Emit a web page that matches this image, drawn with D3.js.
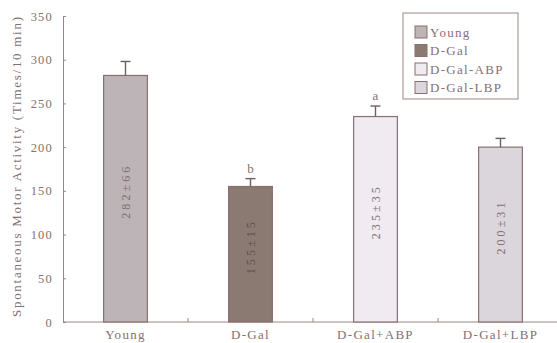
<!DOCTYPE html>
<html>
<head>
<meta charset="utf-8">
<script src="https://cdn.jsdelivr.net/npm/d3@7"></script>
<style>
  body { margin: 0; background: #fff; }
  text { font-family: "Liberation Serif", "Times New Roman", serif; fill: #856f72; }
  .axis path, .axis line { stroke: #9a8686; }
</style>
</head>
<body>
<div id="chart"></div>
<script>
var groups = ["Young", "D-Gal", "D-Gal+ABP", "D-Gal+LBP"];
var legendNames = ["Young", "D-Gal", "D-Gal-ABP", "D-Gal-LBP"];
var means = [282, 155, 235, 200];
var errors = [16, 9, 12, 10];
var barLabels = ["282±66", "155±15", "235±35", "200±31"];
var marks = ["", "b", "a", ""];
var yTicks = [0, 50, 100, 150, 200, 250, 300, 350];
var fills = ["#bcb4b7", "#8b7a72", "#efebf0", "#dbd6db"];

var width = 557, height = 343;
var margin = {top: 16, left: 63, bottom: 21};

var svg = d3.select("#chart").append("svg")
    .attr("width", width)
    .attr("height", height);

var x = d3.scaleBand()
    .domain(groups)
    .range([margin.left, margin.left + 500])
    .paddingInner(0.65)
    .paddingOuter(0.325);
var y = d3.scaleLinear()
    .domain([0, 350])
    .range([height - margin.bottom, margin.top]);

// y axis, ticks pointing inward
svg.append("g")
    .attr("class", "axis")
    .attr("transform", "translate(" + margin.left + ",0)")
    .call(d3.axisLeft(y).tickValues(yTicks).tickSizeInner(-3).tickSizeOuter(0).tickPadding(10))
    .call(function(g) {
        g.selectAll("text")
            .style("font-size", "12.5px")
            .style("letter-spacing", "1.2px")
            .style("font-family", "Liberation Serif");
    });

// x axis line
svg.append("line")
    .attr("x1", margin.left).attr("x2", width)
    .attr("y1", y(0)).attr("y2", y(0))
    .style("stroke", "#9a8686");

// boundary ticks between groups
var step = x.step();
svg.selectAll(".btick")
    .data(groups.slice(1))
    .enter().append("line")
    .attr("class", "btick")
    .attr("x1", function(d) { return x(d) - (step - x.bandwidth()) / 2; })
    .attr("x2", function(d) { return x(d) - (step - x.bandwidth()) / 2; })
    .attr("y1", y(0)).attr("y2", y(0) - 4)
    .style("stroke", "#9a8686");

// x labels
svg.append("g")
    .attr("class", "axis xlab")
    .attr("transform", "translate(0," + y(0) + ")")
    .call(d3.axisBottom(x).tickSize(0).tickPadding(8))
    .call(function(g) {
        g.select(".domain").remove();
        g.selectAll("text")
            .style("font-size", "13px")
            .style("letter-spacing", "1.3px")
            .style("font-family", "Liberation Serif");
    });

// y axis title
svg.append("text")
    .attr("transform", "translate(21," + ((y(0) + y(350)) / 2 - 2) + ") rotate(-90)")
    .style("text-anchor", "middle")
    .style("font-size", "13px")
    .attr("textLength", 300)
    .attr("lengthAdjust", "spacing")
    .text("Spontaneous Motor Activity (Times/10 min)");

// bars
svg.selectAll(".bar")
    .data(groups)
    .enter().append("rect")
    .attr("class", "bar")
    .attr("x", function(d) { return x(d); })
    .attr("width", x.bandwidth())
    .attr("y", function(d, i) { return y(means[i]); })
    .attr("height", function(d, i) { return y(0) - y(means[i]); })
    .style("fill", function(d, i) { return fills[i]; })
    .style("stroke", "#8a6f70")
    .style("stroke-width", 1.2);

// error bars
var cx = function(d) { return x(d) + x.bandwidth() / 2; };
svg.selectAll(".err")
    .data(groups)
    .enter().append("line")
    .attr("x1", cx).attr("x2", cx)
    .attr("y1", function(d, i) { return y(means[i]); })
    .attr("y2", function(d, i) { return y(means[i] + errors[i]); })
    .style("stroke", "#6e5e5e").style("stroke-width", 1.4);
svg.selectAll(".cap")
    .data(groups)
    .enter().append("line")
    .attr("x1", function(d) { return cx(d) - 5; })
    .attr("x2", function(d) { return cx(d) + 5; })
    .attr("y1", function(d, i) { return y(means[i] + errors[i]); })
    .attr("y2", function(d, i) { return y(means[i] + errors[i]); })
    .style("stroke", "#6e5e5e").style("stroke-width", 1.4);

// significance letters
svg.selectAll(".mark")
    .data(groups)
    .enter().append("text")
    .attr("x", cx)
    .attr("y", function(d, i) { return y(means[i] + errors[i]) - 6; })
    .style("text-anchor", "middle")
    .style("font-size", "13px")
    .text(function(d, i) { return marks[i]; });

// value labels inside bars
svg.selectAll(".vlab")
    .data(groups)
    .enter().append("text")
    .attr("transform", function(d, i) {
        return "translate(" + (cx(d) + 4) + "," + (y(means[i] / 2) - 6) + ") rotate(-90)";
    })
    .style("text-anchor", "middle")
    .style("font-size", "12px")
    .attr("textLength", 52)
    .attr("lengthAdjust", "spacing")
    .style("fill", function(d, i) { return i === 1 ? "#5e4e4a" : "#856f72"; })
    .text(function(d, i) { return barLabels[i]; });

// legend
var lg = svg.append("g").attr("transform", "translate(403,13)");
lg.append("rect")
    .attr("width", 115).attr("height", 86)
    .style("fill", "#fff").style("stroke", "#9a8686");
var items = lg.selectAll(".li")
    .data(legendNames)
    .enter().append("g")
    .attr("transform", function(d, i) { return "translate(12," + (13 + i * 18.5) + ")"; });
items.append("rect")
    .attr("width", 12).attr("height", 12)
    .style("fill", function(d, i) { return fills[i]; })
    .style("stroke", "#8a6f70");
items.append("text")
    .attr("x", 15).attr("y", 10.5)
    .style("font-size", "13px")
    .style("letter-spacing", "1.3px")
    .text(function(d) { return d; });
</script>
</body>
</html>
